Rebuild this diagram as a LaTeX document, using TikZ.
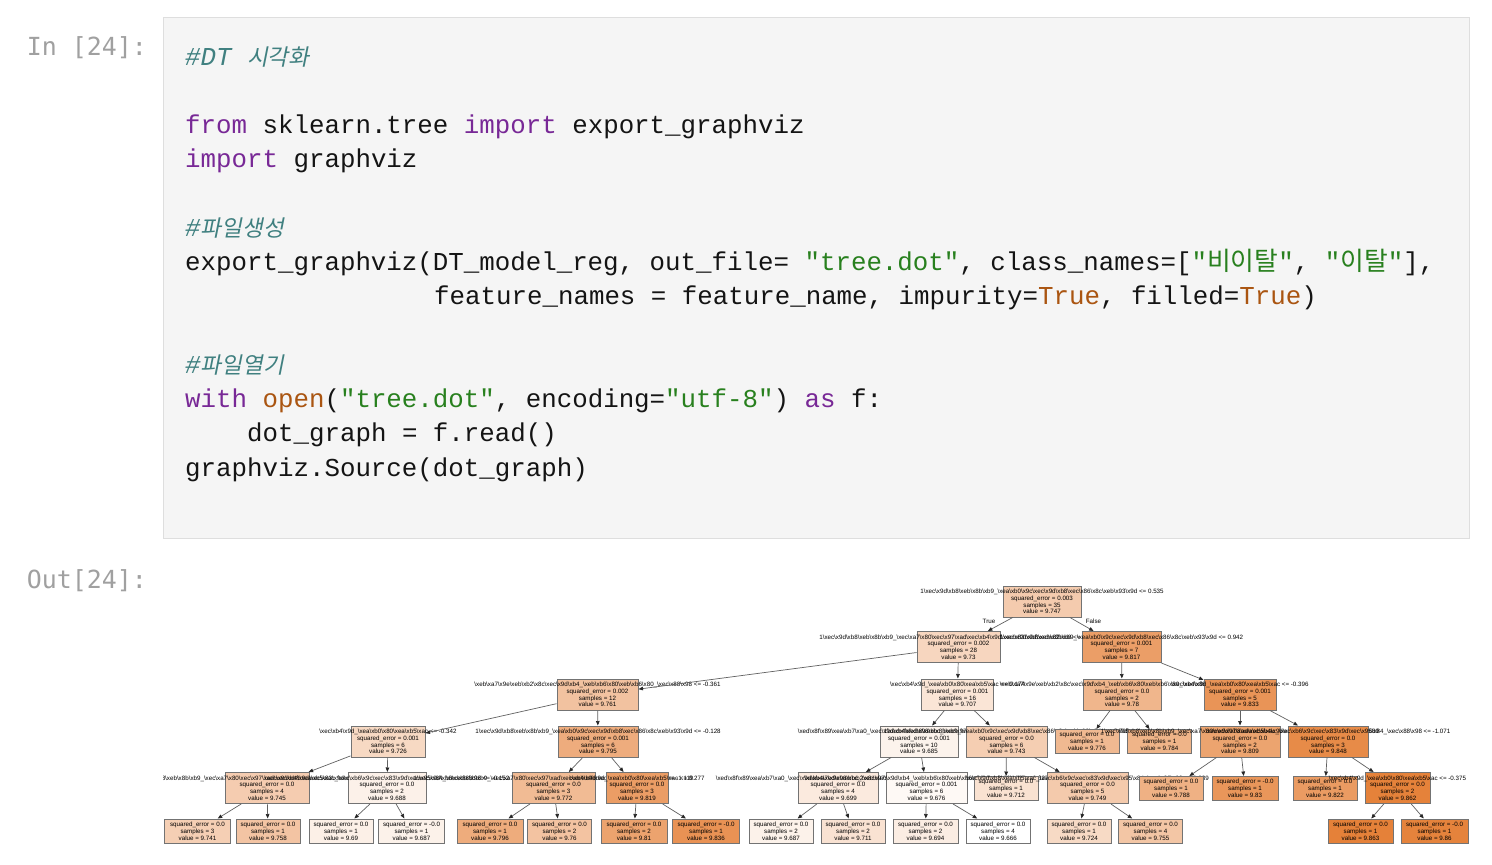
\documentclass[tikz,border=0pt]{standalone}
\usepackage{fontspec}
\usetikzlibrary{arrows.meta}
\setmainfont{Liberation Sans}
\newfontfamily\codefont{Liberation Mono}
\newfontfamily\promptfont{DejaVu Sans Mono}
\newfontfamily\cjkfont{Noto Sans CJK KR}
\newfontfamily\cjkslfont{Noto Sans CJK KR}[FakeSlant=0.2]
\newfontfamily\treefont{Liberation Sans}
\definecolor{kwc}{RGB}{120,40,150}
\definecolor{strc}{RGB}{40,128,30}
\definecolor{bic}{RGB}{170,85,17}
\definecolor{cmc}{RGB}{64,128,128}
\definecolor{txtc}{RGB}{20,20,20}
\definecolor{promptc}{RGB}{160,160,160}
\definecolor{cellbg}{RGB}{245,245,245}
\definecolor{cellbd}{RGB}{222,222,222}
\definecolor{tc}{RGB}{229,129,57}
\newcommand\ckw[1]{\textcolor{kwc}{#1}}
\newcommand\cstr[1]{\textcolor{strc}{#1}}
\newcommand\cbi[1]{\textcolor{bic}{#1}}
\newcommand\hx[2]{\textbackslash x#1#2}
\newcommand\ftA{1\hx ec\hx 9d\hx b8\hx eb\hx 8b\hx b9\_\hx ea\hx b0\hx 9c\hx ec\hx 9d\hx b8\hx ec\hx 86\hx 8c\hx eb\hx 93\hx 9d}
\newcommand\ftB{1\hx ec\hx 9d\hx b8\hx eb\hx 8b\hx b9\_\hx ec\hx a7\hx 80\hx ec\hx 97\hx ad\hx ec\hx b4\hx 9d\hx ec\hx 83\hx 9d\hx ec\hx 82\hx b0}
\newcommand\ftC{\hx eb\hx a7\hx 9e\hx eb\hx b2\hx 8c\hx ec\hx 9d\hx b4\_\hx eb\hx b6\hx 80\hx eb\hx b6\hx 80\_\hx ec\hx 88\hx 98}
\newcommand\ftD{\hx ec\hx b4\hx 9d\_\hx ea\hx b0\hx 80\hx ea\hx b5\hx ac}
\newcommand\ftE{\hx ed\hx 8f\hx 89\hx ea\hx b7\hx a0\_\hx ec\hx 9d\hx b4\hx ed\hx 98\hx bc\_\hx ec\hx 97\hx b0\hx eb\hx a0\hx b9}
\newcommand\ftF{\hx ec\hx 9d\hx b8\hx ea\hx b5\hx ac\_\hx ec\hx b6\hx 9c\hx ec\hx 83\hx 9d\hx ec\hx 95\hx 84\_\hx ec\hx 88\hx 98}
\tikzset{
  codeline/.style={anchor=base west, inner sep=0pt, text=txtc,
    font=\codefont\fontsize{25.9}{30}\selectfont\frenchspacing},
  promptline/.style={anchor=base east, inner sep=0pt, text=promptc,
    font=\promptfont\fontsize{25}{30}\selectfont},
  tbox/.style={draw=black!55, line width=1bp, rectangle, inner sep=0pt,
    minimum height=31bp, align=center, text=black,
    font=\treefont\fontsize{6.25}{6.8}\selectfont},
  lbox/.style={tbox, minimum height=24bp},
  edge/.style={draw=black!62, line width=0.7bp,
    -{Triangle[length=4.5bp,width=3.6bp,color=black!85]}},
  elabel/.style={inner sep=0pt, font=\treefont\fontsize{6.25}{6.8}\selectfont}
}
\newcommand\tn[9]{\node[tbox, minimum width=#4bp, fill=tc!#5!white] (#1) at (#2,#3)
  {\makebox[0pt]{#6}\\squared\_error = #7\\samples = #8\\value = #9};}
\newcommand\tl[8]{\node[lbox, minimum width=#4bp, fill=tc!#5!white] (#1) at (#2,#3)
  {squared\_error = #6\\samples = #7\\value = #8};}
\begin{document}
\begin{tikzpicture}[x=1bp, y=-1bp]
\useasboundingbox (0,0) rectangle (1492,864);
\fill[white] (0,0) rectangle (1492,864);
% input cell
\node[promptline] (pin) at (147,55) {In [24]:};
\draw[cellbd, fill=cellbg, line width=1.2bp] (163.5,17.5) rectangle (1469.5,538.5);
\node[codeline] (c0) at (185,65) {\textcolor{cmc}{\itshape\#DT {\upshape\cjkslfont\fontsize{22.7}{26}\selectfont 시각화}}};
\node[codeline] (c2) at (185,133.5) {\ckw{from} sklearn.tree \ckw{import} export\_graphviz};
\node[codeline] (c3) at (185,167.75) {\ckw{import} graphviz};
\node[codeline] (c5) at (185,236.25) {\textcolor{cmc}{\itshape\#{\upshape\cjkslfont\fontsize{22.7}{26}\selectfont 파일생성}}};
\node[codeline] (c6) at (185,270.5) {export\_graphviz(DT\_model\_reg, out\_file= \cstr{"tree.dot"}, class\_names=[\cstr{"{\cjkfont 비이탈}"}, \cstr{"{\cjkfont 이탈}"}],};
\node[codeline] (c7) at (434,304.75) {feature\_names = feature\_name, impurity=\cbi{True}, filled=\cbi{True})};
\node[codeline] (c9) at (185,373.25) {\textcolor{cmc}{\itshape\#{\upshape\cjkslfont\fontsize{22.7}{26}\selectfont 파일열기}}};
\node[codeline] (c10) at (185,407.5) {\ckw{with} \cbi{open}(\cstr{"tree.dot"}, encoding=\cstr{"utf-8"}) \ckw{as} f:};
\node[codeline] (c11) at (247,441.75) {dot\_graph = f.read()};
\node[codeline] (c12) at (185,476) {graphviz.Source(dot\_graph)};
% output cell
\node[promptline] (pout) at (147,588) {Out[24]:};
\begin{scope}
\clip (163,555) rectangle (1492,864);
% level 0
\tn{n0}{1042}{601.5}{78}{41.1}{\ftA{} <= 0.535}{0.003}{35}{9.747}
% level 1
\tn{n1}{958.5}{647}{83}{32.5}{\ftB{} <= 0.246}{0.002}{28}{9.73}
\tn{n2}{1121.5}{647}{79}{76.6}{\ftA{} <= 0.942}{0.001}{7}{9.817}
% level 2
\tn{n3}{597.5}{694.5}{81}{48.2}{\ftC{} <= -0.361}{0.002}{12}{9.761}
\tn{n4}{957.5}{694.5}{72}{20.8}{\ftD{} <= 0.174}{0.001}{16}{9.707}
\tn{n5}{1122}{694.5}{78}{57.9}{\ftC{} <= 0.053}{0.0}{2}{9.78}
\tn{n6}{1240}{694.5}{72}{84.8}{\ftD{} <= -0.396}{0.001}{5}{9.833}
% level 3
\tn{n7}{388}{741.5}{74}{30.5}{\ftD{} <= -0.342}{0.001}{6}{9.726}
\tn{n8}{598}{741.5}{80}{65.5}{\ftA{} <= -0.128}{0.001}{6}{9.795}
\tn{n9}{919}{741.5}{78}{9.6}{\ftE{} <= 0.412}{0.001}{10}{9.685}
\tn{n10}{1006.5}{741.5}{81}{39.1}{\ftA{} <= -0.705}{0.0}{6}{9.743}
\tl{n11}{1087}{741.5}{64}{55.8}{0.0}{1}{9.776}
\tl{n12}{1159.5}{741.5}{64}{59.9}{0.0}{1}{9.784}
\tn{n13}{1240}{741.5}{80}{72.6}{\ftB{} <= 0.689}{0.0}{2}{9.809}
\tn{n14}{1328}{741.5}{80}{92.4}{\ftF{} <= -1.071}{0.0}{3}{9.848}
% level 4
\tn{n15}{267}{788}{84}{40.1}{\ftB{} <= -0.447}{0.0}{4}{9.745}
\tn{n16}{387}{788}{78}{11.2}{\ftF{} <= -0.152}{0.0}{2}{9.688}
\tn{n17}{553.5}{788}{83}{53.8}{\ftB{} <= -1.119}{0.0}{3}{9.772}
\tn{n18}{637}{788}{62}{77.7}{\ftD{} <= 0.277}{0.0}{3}{9.819}
\tn{n19}{838}{788}{80}{16.8}{\ftE{} <= -0.583}{0.0}{4}{9.699}
\tn{n20}{926.5}{788}{81}{5.1}{\ftC{} <= 0.327}{0.001}{6}{9.676}
\tl{n21}{1006}{788.5}{64}{23.4}{0.0}{1}{9.712}
\tn{n22}{1087.5}{788}{81}{42.1}{\ftF{} <= 0.289}{0.0}{5}{9.749}
\tl{n23}{1171}{788.5}{64}{61.9}{0.0}{1}{9.788}
\tl{n24}{1245}{788.5}{66}{83.2}{-0.0}{1}{9.83}
\tl{n25}{1325}{788.5}{64}{79.2}{0.0}{1}{9.822}
\tn{n26}{1397.5}{788}{65}{99.5}{\ftD{} <= -0.375}{0.0}{2}{9.862}
% level 5
\tl{l1}{197.5}{831}{66}{38.1}{0.0}{3}{9.741}
\tl{l2}{268}{831}{64}{46.7}{0.0}{1}{9.758}
\tl{l3}{341}{831}{64}{12.2}{0.0}{1}{9.69}
\tl{l4}{411.5}{831}{66}{10.7}{-0.0}{1}{9.687}
\tl{l5}{490}{831}{66}{66.0}{0.0}{1}{9.796}
\tl{l6}{559.5}{831}{64}{47.7}{0.0}{2}{9.76}
\tl{l7}{634}{831}{66}{73.1}{0.0}{2}{9.81}
\tl{l8}{706}{831}{67}{86.3}{-0.0}{1}{9.836}
\tl{l9}{781}{831}{64}{10.7}{0.0}{2}{9.687}
\tl{l10}{853}{831}{64}{22.8}{0.0}{2}{9.711}
\tl{l11}{925.5}{831}{65}{14.2}{0.0}{2}{9.694}
\tl{l12}{998}{831}{64}{0}{0.0}{4}{9.666}
\tl{l13}{1079}{831}{64}{29.4}{0.0}{1}{9.724}
\tl{l14}{1150.5}{831}{64}{45.2}{0.0}{4}{9.755}
\tl{l15}{1360.5}{831}{65}{100}{0.0}{1}{9.863}
\tl{l16}{1434.5}{831}{67}{98.5}{-0.0}{1}{9.86}
% edges
\draw[edge] (n0) -- (n1);
\draw[edge] (n0) -- (n2);
\draw[edge] (n1) -- (n3);
\draw[edge] (n1) -- (n4);
\draw[edge] (n2) -- (n5);
\draw[edge] (n2) -- (n6);
\draw[edge] (n3) -- (n7);
\draw[edge] (n3) -- (n8);
\draw[edge] (n4) -- (n9);
\draw[edge] (n4) -- (n10);
\draw[edge] (n5) -- (n11);
\draw[edge] (n5) -- (n12);
\draw[edge] (n6) -- (n13);
\draw[edge] (n6) -- (n14);
\draw[edge] (n7) -- (n15);
\draw[edge] (n7) -- (n16);
\draw[edge] (n8) -- (n17);
\draw[edge] (n8) -- (n18);
\draw[edge] (n9) -- (n19);
\draw[edge] (n9) -- (n20);
\draw[edge] (n10) -- (n21);
\draw[edge] (n10) -- (n22);
\draw[edge] (n13) -- (n23);
\draw[edge] (n13) -- (n24);
\draw[edge] (n14) -- (n25);
\draw[edge] (n14) -- (n26);
\draw[edge] (n15) -- (l1);
\draw[edge] (n15) -- (l2);
\draw[edge] (n16) -- (l3);
\draw[edge] (n16) -- (l4);
\draw[edge] (n17) -- (l5);
\draw[edge] (n17) -- (l6);
\draw[edge] (n18) -- (l7);
\draw[edge] (n18) -- (l8);
\draw[edge] (n19) -- (l9);
\draw[edge] (n19) -- (l10);
\draw[edge] (n20) -- (l11);
\draw[edge] (n20) -- (l12);
\draw[edge] (n22) -- (l13);
\draw[edge] (n22) -- (l14);
\draw[edge] (n26) -- (l15);
\draw[edge] (n26) -- (l16);
\node[elabel] (etrue) at (989,621.5) {True};
\node[elabel] (efalse) at (1093.5,621.5) {False};
\end{scope}
\end{tikzpicture}
\end{document}
